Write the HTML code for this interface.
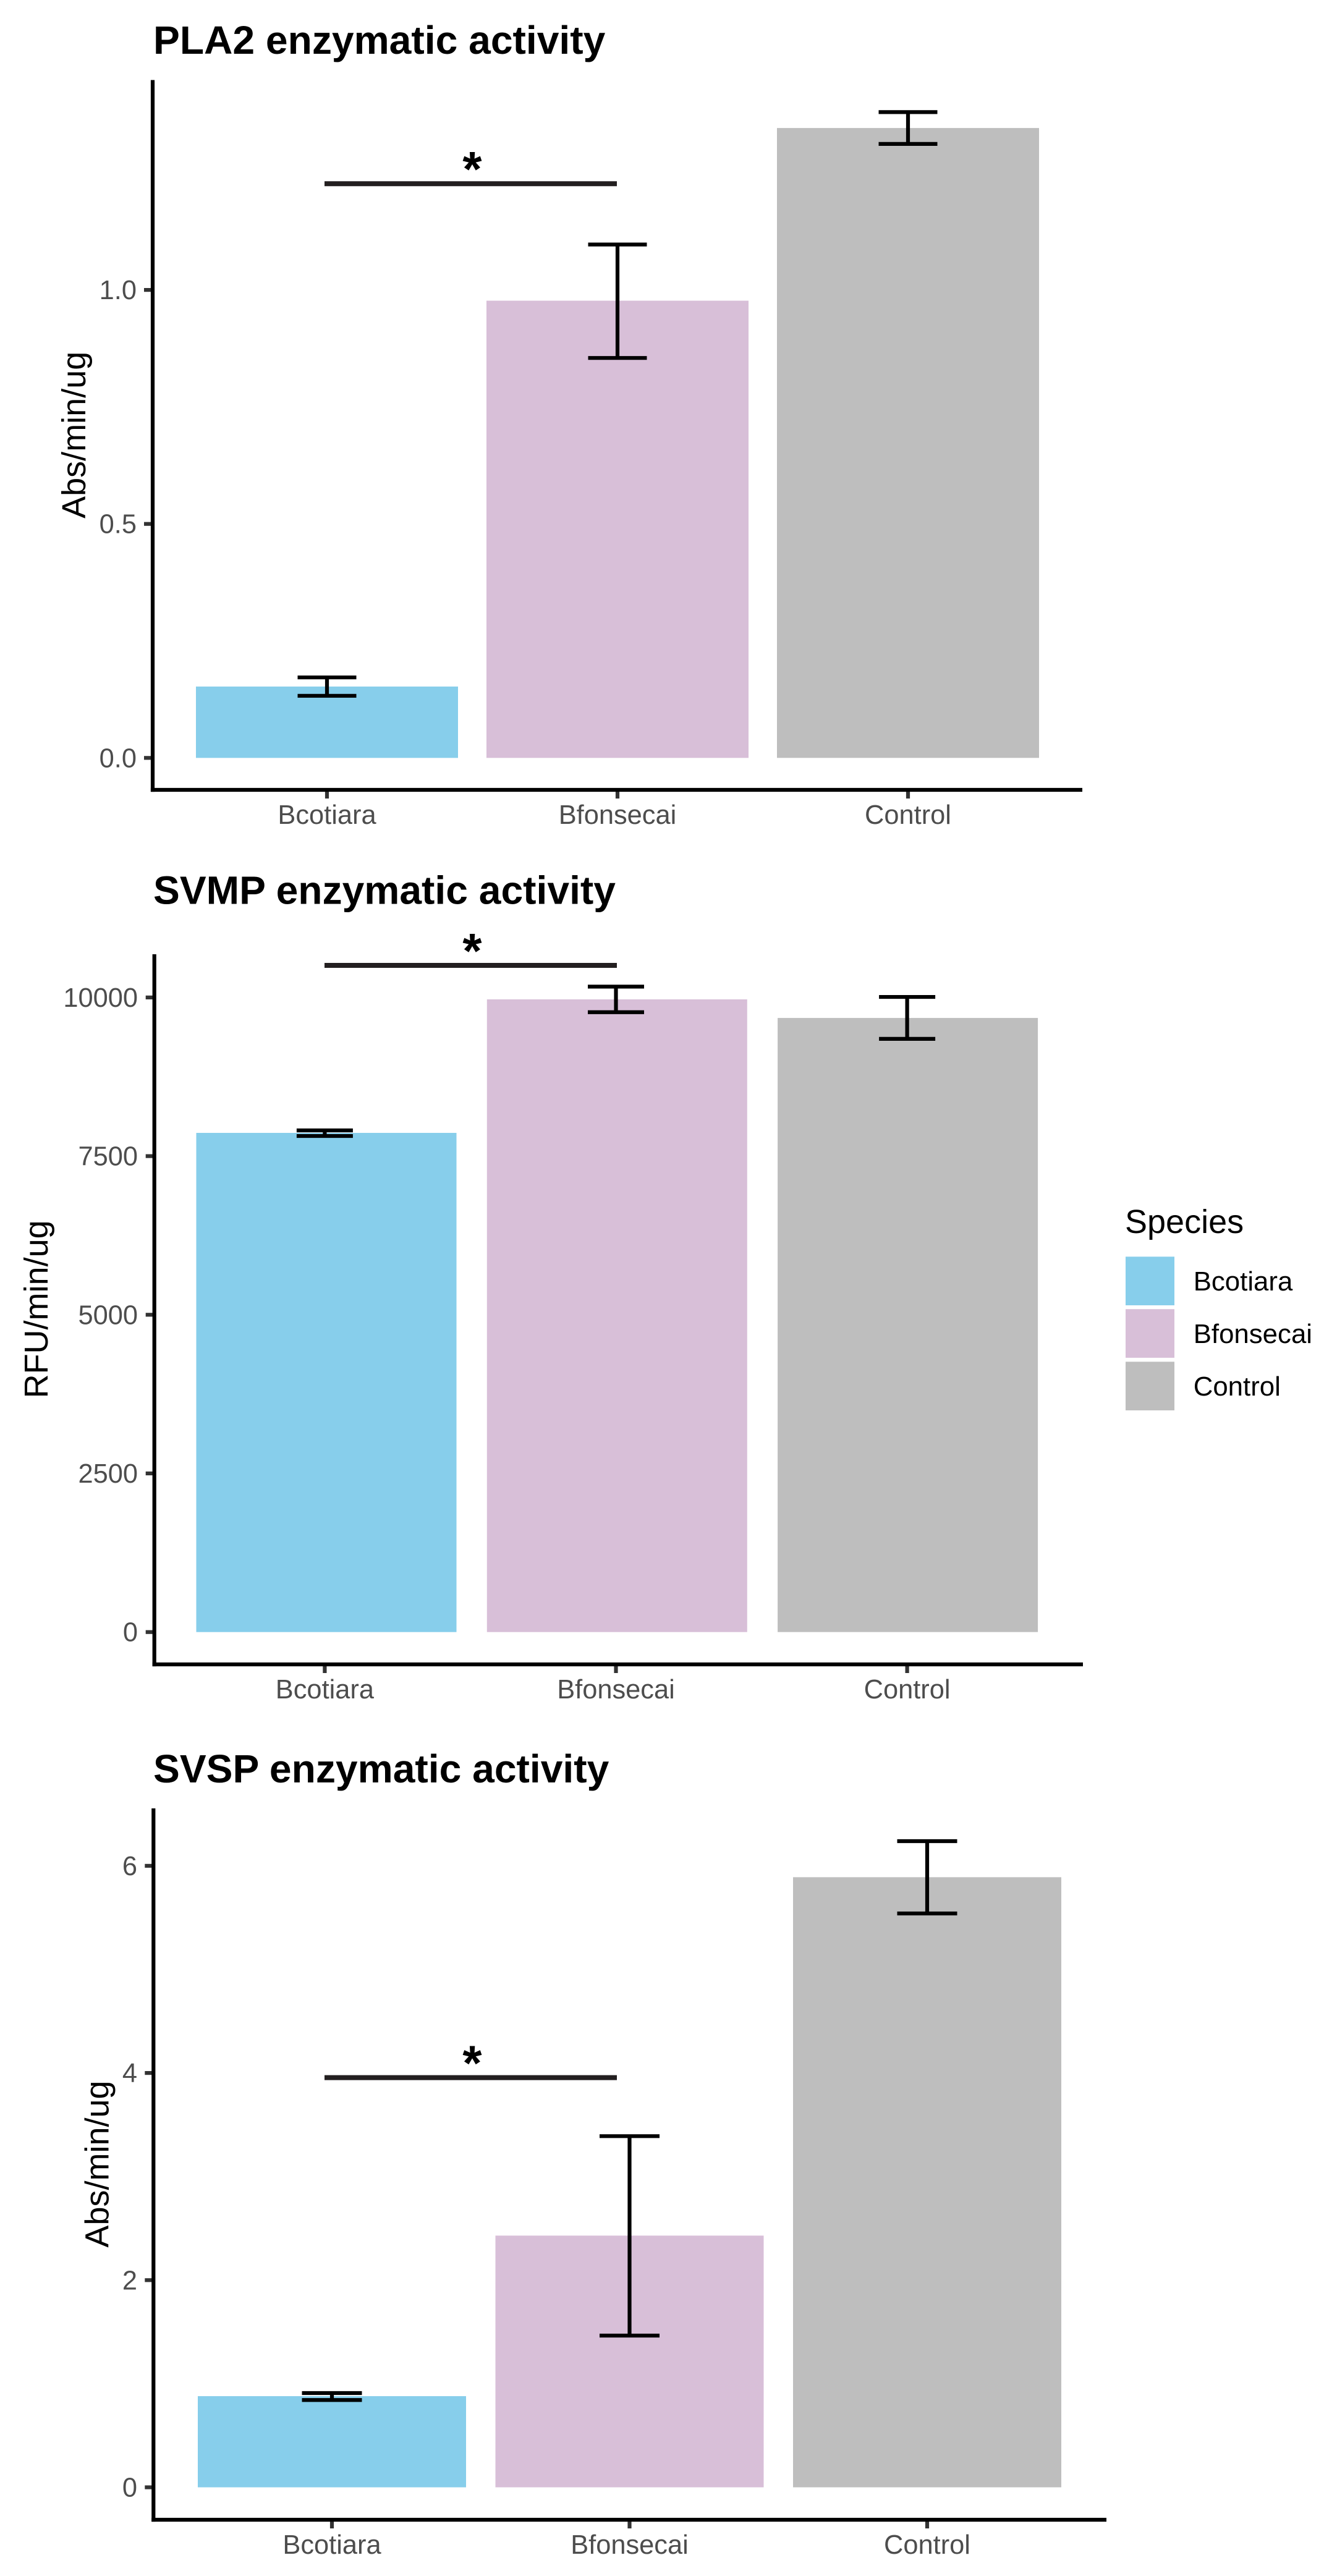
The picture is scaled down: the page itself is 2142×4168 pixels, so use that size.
<!DOCTYPE html>
<html lang="en">
<head>
<meta charset="utf-8">
<title>Enzymatic activity by species</title>
<style>
html,body{margin:0;padding:0;background:#fff;}
svg{display:block;font-family:"Liberation Sans",Arial,sans-serif;}
.title{font-size:64.2px;font-weight:700;fill:#000;}
.axis-title{font-size:54px;fill:#000;text-anchor:middle;}
.legend-title{font-size:54px;fill:#000;}
.legend-label{font-size:43.8px;fill:#000;}
.tick-label{font-size:43.4px;fill:#4d4d4d;}
.star{font-size:80px;font-weight:700;fill:#000;text-anchor:middle;}
</style>
</head>
<body>
<svg id="figure" xmlns="http://www.w3.org/2000/svg" width="2142" height="4168" viewBox="0 0 2142 4168">
  <rect x="0" y="0" width="2142" height="4168" fill="#ffffff"/>

  <g id="panel-pla2">
    <text class="title" x="248" y="87">PLA2 enzymatic activity</text>
    <text class="axis-title" transform="translate(138 703.8) rotate(-90)">Abs/min/ug</text>
  </g>

  <g id="panel-svmp">
    <text class="title" x="248" y="1462.7">SVMP enzymatic activity</text>
    <text class="axis-title" transform="translate(77 2118.4) rotate(-90)">RFU/min/ug</text>
  </g>

  <g id="panel-svsp">
    <text class="title" x="248" y="2884">SVSP enzymatic activity</text>
    <text class="axis-title" transform="translate(175.4 3501.5) rotate(-90)">Abs/min/ug</text>
  </g>

  <g id="legend">
    <text class="legend-title" x="1820" y="1995">Species</text>
    <g>
      <rect x="1821" y="2033.3" width="79" height="78.7" fill="#87ceeb"/>
      <text class="legend-label" x="1930.7" y="2088">Bcotiara</text>
    </g>
    <g>
      <rect x="1821" y="2118.2" width="79" height="78.7" fill="#d8bfd8"/>
      <text class="legend-label" x="1930.7" y="2172.8">Bfonsecai</text>
    </g>
    <g>
      <rect x="1821" y="2203.3" width="79" height="78.7" fill="#bebebe"/>
      <text class="legend-label" x="1930.7" y="2257.8">Control</text>
    </g>
  </g>
</svg>

<script>
// ---- Data ----
const categories = ["Bcotiara", "Bfonsecai", "Control"];

const pla2Means = [0.1525, 0.977, 1.346];
const pla2Upper = [0.172, 1.097, 1.380];
const pla2Lower = [0.1327, 0.8546, 1.312];
const pla2Ticks = [0, 0.5, 1];
const pla2TickLabels = ["0.0", "0.5", "1.0"];
const pla2SigLevel = 1.227;

const svmpMeans = [7866, 9970, 9677];
const svmpUpper = [7905, 10171, 10008];
const svmpLower = [7817, 9768, 9348];
const svmpTicks = [0, 2500, 5000, 7500, 10000];
const svmpTickLabels = ["0", "2500", "5000", "7500", "10000"];
const svmpSigLevel = 10505;

const svspMeans = [0.88, 2.43, 5.89];
const svspUpper = [0.91, 3.39, 6.238];
const svspLower = [0.843, 1.465, 5.54];
const svspTicks = [0, 2, 4, 6];
const svspTickLabels = ["0", "2", "4", "6"];
const svspSigLevel = 3.955;

const sigLabel = "*";
const barColors = ["#87ceeb", "#d8bfd8", "#bebebe"];

// ---- Panel geometry (pixels) ----
const pla2Layout = {
  group: "panel-pla2", prefix: "pla2",
  left: 247, right: 1751, top: 129.5, bottom: 1278,
  zeroY: 1226.3, pxPerUnit: 757.2,
  barStart: 529, barStep: 470, barWidth: 424,
  tickStart: 529, tickStep: 470, capWidth: 95,
  sigFrom: 525, sigTo: 998, labelRight: 221
};
const svmpLayout = {
  group: "panel-svmp", prefix: "svmp",
  left: 249.7, right: 1752, top: 1544, bottom: 2693,
  zeroY: 2640.7, pxPerUnit: 0.10268,
  barStart: 528, barStep: 470.3, barWidth: 421,
  tickStart: 525.4, tickStep: 471.1, capWidth: 91,
  sigFrom: 525, sigTo: 998, labelRight: 223
};
const svspLayout = {
  group: "panel-svsp", prefix: "svsp",
  left: 248.3, right: 1790, top: 2926, bottom: 4077,
  zeroY: 4024.5, pxPerUnit: 167.6,
  barStart: 537, barStep: 481.5, barWidth: 434,
  tickStart: 537, tickStep: 481.5, capWidth: 97,
  sigFrom: 525, sigTo: 998, labelRight: 222
};

const SVG_NS = "http://www.w3.org/2000/svg";
const AXIS_W = 6.2;
const TICK_LEN = 14;

function make(parent, tag, attrs, text) {
  const el = document.createElementNS(SVG_NS, tag);
  for (const key in attrs) el.setAttribute(key, attrs[key]);
  if (text !== undefined) el.textContent = text;
  parent.appendChild(el);
  return el;
}

function drawPanel(L, means, upper, lower, ticks, tickLabels, sigLevel) {
  const g = document.getElementById(L.group);
  const yScale = function (v) { return L.zeroY - v * L.pxPerUnit; };
  const barCenter = function (i) { return L.barStart + i * L.barStep; };
  const tickCenter = function (i) { return L.tickStart + i * L.tickStep; };

  // bars
  means.forEach(function (m, i) {
    const bar = make(g, "rect", {
      x: barCenter(i) - L.barWidth / 2,
      y: yScale(m),
      width: L.barWidth,
      height: yScale(0) - yScale(m),
      fill: barColors[i]
    });
    
    
  });

  // error bars
  means.forEach(function (m, i) {
    const cx = tickCenter(i);
    const yTop = yScale(upper[i]);
    const yBot = yScale(lower[i]);
    const eg = make(g, "g", { stroke: "#000", "stroke-width": AXIS_W, fill: "none" });
    
    
    make(eg, "line", { x1: cx, x2: cx, y1: yTop, y2: yBot });
    make(eg, "line", { x1: cx - L.capWidth / 2, x2: cx + L.capWidth / 2, y1: yTop, y2: yTop });
    make(eg, "line", { x1: cx - L.capWidth / 2, x2: cx + L.capWidth / 2, y1: yBot, y2: yBot });
  });

  // y ticks
  ticks.forEach(function (t, i) {
    const y = yScale(t);
    const tick = make(g, "line", { x1: L.left - TICK_LEN, x2: L.left, y1: y, y2: y, stroke: "#333333", "stroke-width": AXIS_W });
    
    
    const label = make(g, "text", { class: "tick-label", x: L.labelRight, y: y + 15, "text-anchor": "end" }, tickLabels[i]);
    
    
  });

  // x ticks
  categories.forEach(function (c, i) {
    const x = tickCenter(i);
    const tick = make(g, "line", { x1: x, x2: x, y1: L.bottom, y2: L.bottom + TICK_LEN, stroke: "#333333", "stroke-width": AXIS_W });
    
    
    const label = make(g, "text", { class: "tick-label", x: x, y: L.bottom + 55, "text-anchor": "middle" }, c);
    
    
  });

  // axes
  const yAxis = make(g, "line", { x1: L.left, x2: L.left, y1: L.top, y2: L.bottom + AXIS_W / 2, stroke: "#000", "stroke-width": AXIS_W });
  
  
  const xAxis = make(g, "line", { x1: L.left - AXIS_W / 2, x2: L.right, y1: L.bottom, y2: L.bottom, stroke: "#000", "stroke-width": AXIS_W });
  
  

  // significance bracket
  const sigY = yScale(sigLevel);
  const sig = make(g, "line", { x1: L.sigFrom, x2: L.sigTo, y1: sigY, y2: sigY, stroke: "#231f20", "stroke-width": 8 });
  
  
  const star = make(g, "text", { class: "star", x: (L.sigFrom + L.sigTo) / 2 + 2.5, y: sigY + 4 }, sigLabel);
  
  
}

drawPanel(pla2Layout, pla2Means, pla2Upper, pla2Lower, pla2Ticks, pla2TickLabels, pla2SigLevel);
drawPanel(svmpLayout, svmpMeans, svmpUpper, svmpLower, svmpTicks, svmpTickLabels, svmpSigLevel);
drawPanel(svspLayout, svspMeans, svspUpper, svspLower, svspTicks, svspTickLabels, svspSigLevel);
</script>
</body>
</html>
